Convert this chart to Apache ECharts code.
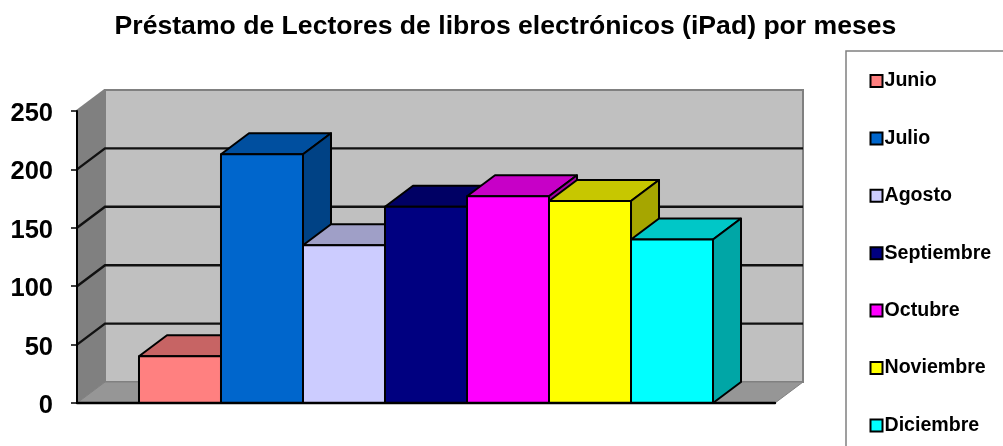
<!DOCTYPE html>
<html>
<head>
<meta charset="utf-8">
<style>
    html, body { margin: 0; padding: 0; background: #ffffff; overflow: hidden; }
    #chart { width: 1003px; height: 446px; }
</style>
<script src="https://cdn.jsdelivr.net/npm/echarts@6/dist/echarts.min.js"></script>
</head>
<body>
<div id="chart"></div>
<script>
const titleText = 'Préstamo de Lectores de libros electrónicos (iPad) por meses';
const months = ['Junio', 'Julio', 'Agosto', 'Septiembre', 'Octubre', 'Noviembre', 'Diciembre'];
const values = [40, 213, 135, 168, 177, 173, 140];
const frontColors = ['#ff8080', '#0066cc', '#ccccff', '#000080', '#ff00ff', '#ffff00', '#00ffff'];
const topColors = ['#c76464', '#004f9f', '#9f9fc7', '#000064', '#c700c7', '#c7c700', '#00c7c7'];
const sideColors = ['#a65353', '#004285', '#8585a6', '#000053', '#a600a6', '#a6a600', '#00a6a6'];
const yTicks = [0, 50, 100, 150, 200, 250];

// the fake 3D depth, in pixels
const depthX = 28;
const depthY = -21;

const chart = echarts.init(document.getElementById('chart'), null, { renderer: 'canvas' });

function poly(points, fill) {
    return {
        type: 'polygon',
        shape: { points: points },
        style: { fill: fill, stroke: '#000000', lineWidth: 2, lineJoin: 'round' }
    };
}

function back(p) {
    return [p[0] + depthX, p[1] + depthY];
}

function renderWalls(params, api) {
    const cs = params.coordSys;
    const left = cs.x;
    const right = cs.x + cs.width;
    const bottom = cs.y + cs.height;
    const top = cs.y;
    const children = [
        {
            type: 'polygon',
            shape: { points: [back([left, top]), back([right, top]), back([right, bottom]), back([left, bottom])] },
            style: { fill: '#c0c0c0', stroke: '#808080', lineWidth: 2 }
        },
        {
            type: 'polygon',
            shape: { points: [[left, top], back([left, top]), back([left, bottom]), [left, bottom]] },
            style: { fill: '#808080', stroke: '#808080', lineWidth: 1 }
        },
        {
            type: 'polygon',
            shape: { points: [[left, bottom], back([left, bottom]), back([right, bottom]), [right, bottom]] },
            style: { fill: '#969696', stroke: '#808080', lineWidth: 1 }
        }
    ];
    yTicks.forEach(function (t) {
        const p = api.coord([0, t]);
        const a = [left, p[1]];
        const b = back(a);
        const c = back([right, p[1]]);
        if (t !== 0) {
            children.push({
                type: 'polyline',
                shape: { points: t === 250 ? [a, b] : [a, b, c] },
                style: { fill: null, stroke: t === 250 ? '#808080' : '#111111', lineWidth: 2.4 }
            });
        }
    });
    return { type: 'group', children: children };
}

function renderBar(i) {
    return function (params, api) {
        const w = api.size([1, 0])[0];
        const top = api.coord([i, api.value(0)]);
        const base = api.coord([i, 0]);
        const l = top[0] - w / 2;
        const r = top[0] + w / 2;
        const y = top[1];
        const y0 = base[1];
        return {
            type: 'group',
            children: [
                poly([[l, y], [r, y], back([r, y]), back([l, y])], topColors[i]),
                poly([[r, y], back([r, y]), back([r, y0]), [r, y0]], sideColors[i]),
                poly([[l, y], [r, y], [r, y0], [l, y0]], frontColors[i])
            ]
        };
    };
}

const barSeries = months.map(function (m, i) {
    return {
        type: 'custom',
        name: m,
        coordinateSystem: 'cartesian2d',
        clip: false,
        z: 3,
        encode: { x: 1, y: 0 },
        data: [[values[i], i]],
        renderItem: renderBar(i)
    };
});

const option = {
    backgroundColor: '#ffffff',
    animation: false,
    textStyle: { fontFamily: '"Liberation Sans", Arial, sans-serif' },
    title: {
        text: titleText,
        left: 500.5,
        top: 8,
        textAlign: 'center',
        textStyle: { color: '#000000', fontSize: 26.6, fontWeight: 'bold', fontFamily: '"Liberation Sans", Arial, sans-serif' }
    },
    legend: {
        orient: 'vertical',
        left: 869.5,
        top: 71,
        padding: 0,
        icon: 'rect',
        itemWidth: 12,
        itemHeight: 12,
        itemGap: 37.4,
        selectedMode: false,
        textStyle: {
            color: '#000000',
            fontSize: 19.6,
            fontWeight: 'bold',
            fontFamily: '"Liberation Sans", Arial, sans-serif',
            padding: [0, 0, 0, -3]
        },
        data: months.map(function (m, i) {
            return {
                name: m,
                itemStyle: { color: frontColors[i], borderColor: '#000000', borderWidth: 2 }
            };
        })
    },
    graphic: [{
        type: 'polyline',
        silent: true,
        shape: { points: [[846, 460], [846, 51], [1010, 51]] },
        style: { fill: null, stroke: '#808080', lineWidth: 1.5 }
    }],
    grid: { left: 77, top: 111, width: 698, height: 292 },
    xAxis: {
        type: 'value',
        min: -1.256,
        max: 7.256,
        axisLine: { show: true, onZero: false, lineStyle: { color: '#000000', width: 2.4 } },
        axisTick: { show: false },
        axisLabel: { show: false },
        splitLine: { show: false },
        z: 6
    },
    yAxis: {
        type: 'value',
        min: 0,
        max: 250,
        interval: 50,
        axisLine: { show: true, onZero: false, lineStyle: { color: '#000000', width: 2 } },
        axisTick: { show: true, length: 6, lineStyle: { color: '#000000', width: 1.5 } },
        axisLabel: {
            margin: 24,
            verticalAlign: 'top',
            padding: [-10, 0, 0, 0],
            color: '#000000',
            fontSize: 25.5,
            fontWeight: 'bold',
            fontFamily: '"Liberation Sans", Arial, sans-serif'
        },
        splitLine: { show: false },
        z: 6
    },
    series: [{
        type: 'custom',
        name: 'Fondo',
        coordinateSystem: 'cartesian2d',
        clip: false,
        z: 1,
        silent: true,
        data: [[0, 0]],
        renderItem: renderWalls
    }].concat(barSeries)
};

chart.setOption(option);
</script>
</body>
</html>
